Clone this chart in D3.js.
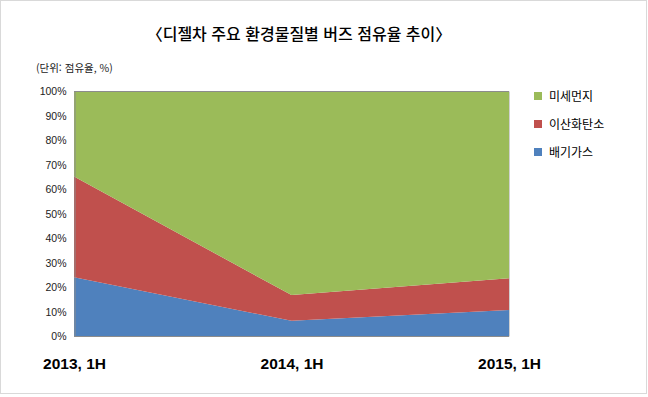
<!DOCTYPE html>
<html lang="ko">
<head>
<meta charset="UTF-8">
<title>디젤차 주요 환경물질별 버즈 점유율 추이</title>
<script src="https://cdn.jsdelivr.net/npm/d3@7"></script>
<style>
  body { margin: 0; background: #fff; font-family: "Noto Sans CJK KR", "Noto Sans", sans-serif; }
</style>
</head>
<body>
<div id="chart"></div>
<script>
// data (share %, stacked to 100)
const periods = ["2013, 1H", "2014, 1H", "2015, 1H"];
const exhaust = [24.2, 6.4, 10.8];   // 배기가스
const co2 = [41.1, 10.5, 13.0];      // 이산화탄소
const dust = [34.7, 83.1, 76.2];     // 미세먼지
const seriesNames = ["배기가스", "이산화탄소", "미세먼지"];
const colors = ["#4f81bd", "#c0504d", "#9bbb59"];
const yTicks = [0, 10, 20, 30, 40, 50, 60, 70, 80, 90, 100];

const W = 648, H = 397;
const svg = d3.select("#chart").append("svg")
  .attr("width", W).attr("height", H);

// outer frame
svg.append("rect")
  .attr("x", 0.5).attr("y", 0.5)
  .attr("width", 646).attr("height", 393)
  .attr("fill", "#fff").attr("stroke", "#d9d9d9");

// title
svg.append("text")
  .attr("x", 299).attr("y", 40)
  .attr("text-anchor", "middle")
  .attr("font-size", "16px")
  .attr("font-weight", 500)
  .attr("fill", "#000")
  .text("〈디젤차 주요 환경물질별 버즈 점유율 추이〉");

svg.append("text")
  .attr("x", 36).attr("y", 72)
  .attr("font-size", "10.5px")
  .attr("fill", "#222")
  .text("(단위: 점유율, %)");

const rows = periods.map((p, i) => ({
  period: p,
  "배기가스": exhaust[i],
  "이산화탄소": co2[i],
  "미세먼지": dust[i]
}));

const x = d3.scalePoint().domain(periods).range([74, 509]);
const y = d3.scaleLinear().domain([0, 100]).range([336.5, 91.5]);

const stack = d3.stack().keys(seriesNames);
const layers = stack(rows);

const area = d3.area()
  .x(d => x(d.data.period))
  .y0(d => y(d[0]))
  .y1(d => y(d[1]));

svg.append("g").selectAll("path")
  .data(layers)
  .join("path")
  .attr("d", area)
  .attr("fill", (d, i) => colors[i]);

// plot frame lines
svg.append("line")
  .attr("x1", 74).attr("x2", 509)
  .attr("y1", 91.5).attr("y2", 91.5)
  .attr("stroke", "#8c8c8c");
svg.append("line")
  .attr("x1", 509.5).attr("x2", 509.5)
  .attr("y1", 91.5).attr("y2", 336.5)
  .attr("stroke", "#d0d0d0");

// y axis
const yAxis = svg.append("g")
  .attr("transform", "translate(74.5,0)")
  .call(d3.axisLeft(y).tickValues(yTicks).tickSize(0).tickPadding(8).tickFormat(d => d + "%"));
yAxis.select(".domain").attr("stroke", "#8c8c8c");
yAxis.selectAll("text")
  .attr("font-size", "10.5px")
  .attr("fill", "#222")
  .attr("font-family", "Liberation Sans, Arial, sans-serif");

// x axis
const xAxis = svg.append("g")
  .attr("transform", "translate(0,336.5)")
  .call(d3.axisBottom(x).tickSize(0).tickPadding(21));
xAxis.select(".domain").attr("stroke", "#8c8c8c").attr("d", "M74,0H509");
xAxis.selectAll("text")
  .attr("font-size", "15.5px")
  .attr("font-weight", "bold")
  .attr("fill", "#000")
  .attr("font-family", "Liberation Sans, Arial, sans-serif");

// legend (top to bottom: 미세먼지, 이산화탄소, 배기가스)
const legendOrder = [2, 1, 0];
const legend = svg.append("g").selectAll("g")
  .data(legendOrder)
  .join("g")
  .attr("transform", (d, i) => `translate(534,${92 + i * 28})`);
legend.append("rect")
  .attr("width", 8).attr("height", 8)
  .attr("fill", d => colors[d]);
legend.append("text")
  .attr("x", 15).attr("y", 8.5)
  .attr("font-size", "12px")
  .attr("fill", "#000")
  .text(d => seriesNames[d]);
</script>
</body>
</html>
